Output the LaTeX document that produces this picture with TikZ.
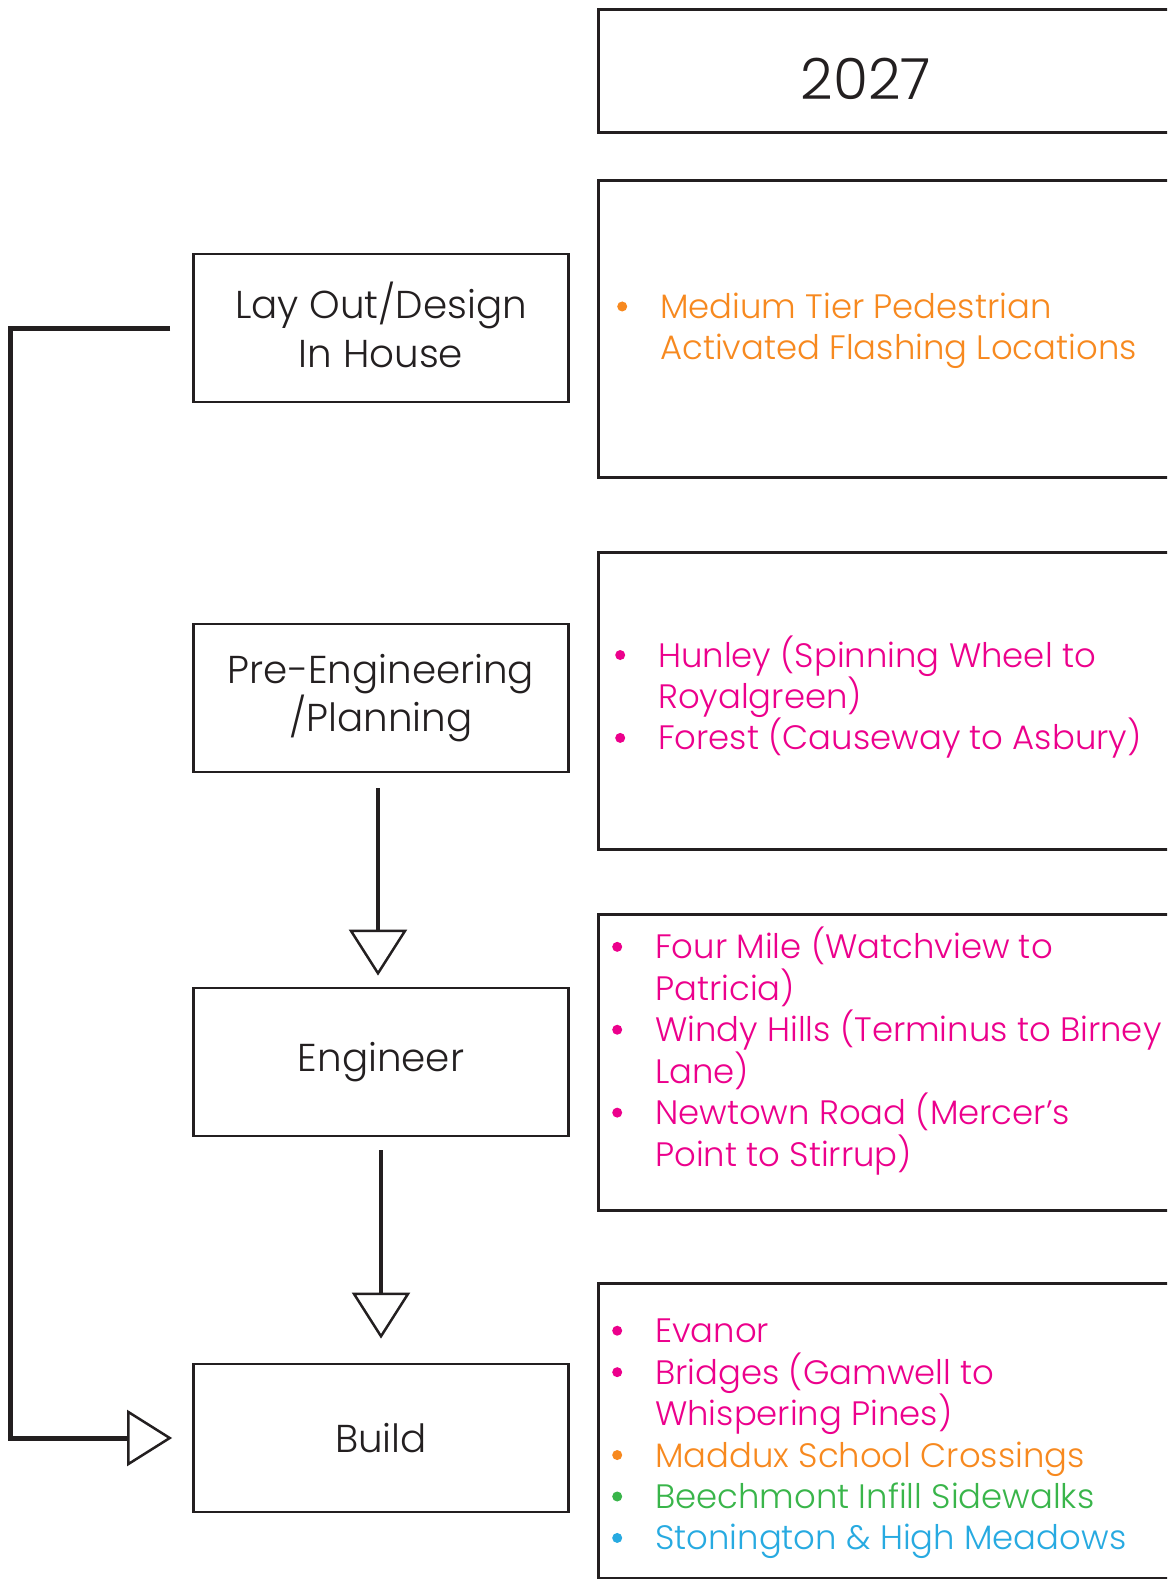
\documentclass[tikz,border=0pt]{standalone}
\usepackage{fontspec}
\setmainfont{Poppins Light}
\usetikzlibrary{arrows.meta}
\definecolor{ink}{HTML}{231F20}
\definecolor{corange}{HTML}{F7891F}
\definecolor{cpink}{HTML}{EC008C}
\definecolor{cgreen}{HTML}{39B54A}
\definecolor{cblue}{HTML}{27AAE1}
\newcommand\blt[1]{\makebox[0pt]{\raisebox{7bp}{\tikz\fill[#1] (0,0) circle (5bp);}}\hspace*{38bp}}
\newcommand\ind{\hspace*{38bp}}
\tikzset{
  stage/.style={draw=ink, line width=2.8bp, minimum width=375bp, minimum height=148bp,
    inner sep=0pt, font=\fontsize{39}{49}\selectfont, text=ink, align=center},
  panel/.style={draw=ink, line width=2.8bp, anchor=north west, inner sep=0pt, minimum width=620bp},
  itemlist/.style={anchor=west, align=left, inner sep=0pt, font=\fontsize{34}{41.6}\selectfont},
  flow/.style={draw=ink, line width=4.5bp,
    -{Triangle[open, length=46bp, width=58bp, line width=2.5bp]}},
}
\begin{document}
\begin{tikzpicture}[x=1bp, y=-1bp]
\useasboundingbox (0,0) rectangle (1167,1579);
\clip (0,0) rectangle (1167,1579);
\fill[white] (0,0) rectangle (1167,1579);

% year header
\node[panel, minimum height=123bp] (year) at (597,8) {};
\node[font=\fontsize{57}{64}\selectfont, text=ink] (yeartxt) at (866,79) {2027};

% right panels
\node[panel, minimum height=297bp] (p1) at (597,179) {};
\node[panel, minimum height=297bp] (p2) at (597,551) {};
\node[panel, minimum height=296bp] (p3) at (597,913) {};
\node[panel, minimum height=295bp] (p4) at (597,1282) {};

\node[itemlist, text=corange] (l1) at (622,331) {\blt{corange}Medium Tier Pedestrian\\ \ind Activated Flashing Locations};
\node[itemlist, text=cpink] (l2) at (620,697) {\blt{cpink}Hunley (Spinning Wheel to\\ \ind Royalgreen)\\ \blt{cpink}Forest (Causeway to Asbury)};
\node[itemlist, text=cpink] (l3) at (617,1051) {\blt{cpink}Four Mile (Watchview to\\ \ind Patricia)\\ \blt{cpink}Windy Hills (Terminus to Birney\\ \ind Lane)\\ \blt{cpink}Newtown Road (Mercer’s\\ \ind Point to Stirrup)};
\node[itemlist] (l4) at (617,1439) {\blt{cpink}\textcolor{cpink}{Evanor}\\ \blt{cpink}\textcolor{cpink}{Bridges (Gamwell to}\\ \ind\textcolor{cpink}{Whispering Pines)}\\ \blt{corange}\textcolor{corange}{Maddux School Crossings}\\ \blt{cgreen}\textcolor{cgreen}{Beechmont Infill Sidewalks}\\ \blt{cblue}\textcolor{cblue}{Stonington \& High Meadows}};

% left stages
\node[stage, text depth=7bp] (lay) at (381,328) {Lay Out/Design\\In House};
\node[stage] (pre) at (381,698) {Pre-Engineering\\/Planning};
\node[stage] (eng) at (381,1062) {Engineer};
\node[stage] (build) at (381,1438) {Build};

% connectors
\draw[flow, shorten <=15bp, shorten >=11bp] ([xshift=-3bp]pre.south) -- ([xshift=-3bp]eng.north);
\draw[flow, shorten <=13bp, shorten >=24bp] (eng.south) -- (build.north);
\coordinate (fbs) at ([xshift=-22bp]lay.west);
\coordinate (fbe) at ([xshift=-20bp]build.west);
\draw[flow, line width=5bp, -{Triangle[open, length=45bp, width=56bp, line width=2.5bp]}]
  (fbs) -- ++(-160,0) |- (fbe);
\end{tikzpicture}
\end{document}
